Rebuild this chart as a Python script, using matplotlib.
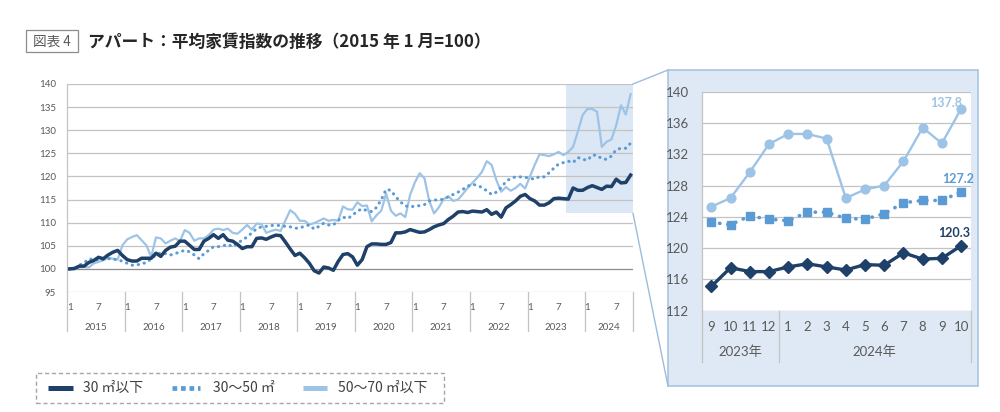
import matplotlib
matplotlib.use('Agg')
import matplotlib.pyplot as plt
from matplotlib.lines import Line2D
from matplotlib.patches import Rectangle

plt.rcParams['font.family'] = ['Lato', 'Noto Sans CJK JP', 'DejaVu Sans']

# ---------------- data ----------------
years = ['2015', '2016', '2017', '2018', '2019', '2020', '2021', '2022', '2023', '2024']
start_year = 2015
n_months = 118  # 2015-01 .. 2024-10

s30 = [100.0, 100.1, 100.6, 100.6, 101.4, 101.8, 102.5, 102.2, 103.0, 103.6, 104.0, 102.9,
       102.0, 101.7, 101.7, 102.3, 102.3, 102.3, 103.4, 102.7, 104.0, 104.7, 104.9, 106.0,
       106.0, 105.1, 104.2, 104.2, 106.0, 106.6, 107.4, 106.6, 107.4, 106.2, 106.0, 105.3,
       104.4, 104.8, 104.8, 106.6, 106.7, 106.4, 106.9, 107.3, 107.2, 105.8, 104.3, 102.9,
       103.4, 102.4, 101.2, 99.6, 99.1, 100.4, 100.2, 99.7, 101.6, 103.1, 103.3, 102.6,
       100.8, 102.0, 104.8, 105.4, 105.4, 105.3, 105.3, 105.7, 107.8, 107.8, 108.0, 108.5,
       108.2, 107.9, 108.0, 108.5, 109.1, 109.5, 109.8, 110.7, 111.4, 112.3, 112.4, 112.2,
       112.5, 112.4, 112.3, 112.8, 111.8, 112.3, 111.2, 113.2, 113.9, 114.7, 115.7, 116.1,
       115.2, 114.7, 113.8, 113.8, 114.3, 115.2, 115.3, 115.2, 115.1, 117.5, 117.0, 117.0,
       117.6, 118.0, 117.6, 117.2, 117.9, 117.8, 119.4, 118.6, 118.7, 120.3]

s30_50 = [100.0, 100.0, 100.8, 101.3, 102.2, 102.0, 101.9, 102.0, 102.2, 102.2, 101.9, 101.7,
          101.2, 100.8, 100.8, 101.2, 101.3, 102.2, 103.0, 103.5, 103.3, 103.0, 103.3, 103.7,
          104.0, 103.7, 103.0, 102.2, 103.3, 104.0, 104.8, 104.8, 105.0, 105.3, 104.8, 105.6,
          106.2, 106.9, 107.8, 108.7, 109.1, 109.2, 109.4, 109.4, 109.4, 109.2, 109.1, 108.8,
          108.8, 109.3, 109.5, 108.6, 109.2, 109.9, 109.5, 109.5, 110.5, 111.2, 110.9, 111.6,
          112.5, 113.0, 112.6, 112.4, 113.3, 115.0, 117.2, 117.0, 115.6, 114.5, 113.6, 113.5,
          113.5, 113.7, 113.9, 114.7, 114.9, 114.9, 115.1, 115.6, 116.1, 116.6, 117.2, 117.9,
          118.3, 118.1, 117.6, 116.9, 116.1, 116.6, 117.6, 118.9, 119.6, 119.9, 119.9, 119.8,
          119.6, 119.4, 120.0, 119.9, 120.8, 121.8, 122.7, 123.0, 123.3, 123.0, 124.1, 123.7,
          123.5, 124.6, 124.6, 123.8, 123.7, 124.4, 125.8, 126.1, 126.1, 127.2]

s50_70 = [100.0, 99.9, 100.3, 100.4, 100.3, 101.2, 101.5, 101.9, 102.4, 102.2, 102.0, 105.1,
          106.4, 106.9, 107.3, 106.2, 105.1, 102.6, 106.8, 106.6, 105.5, 106.1, 106.6, 106.0,
          108.4, 107.8, 106.1, 106.6, 106.6, 107.3, 108.5, 108.7, 108.4, 108.7, 107.8, 107.6,
          108.5, 109.5, 108.5, 109.8, 109.7, 107.8, 108.2, 108.5, 108.2, 110.5, 112.7, 111.9,
          110.4, 110.4, 109.6, 109.9, 110.4, 110.9, 110.4, 110.6, 110.4, 113.5, 112.9, 112.8,
          114.4, 113.6, 113.7, 110.3, 111.6, 112.6, 116.3, 112.6, 111.5, 112.0, 111.2, 116.0,
          118.7, 120.7, 119.6, 114.7, 112.0, 113.3, 115.1, 115.7, 114.7, 115.0, 116.2, 117.5,
          118.6, 119.7, 121.0, 123.3, 122.5, 119.2, 116.7, 117.7, 116.9, 117.5, 118.4, 117.4,
          120.0, 122.5, 124.8, 124.6, 124.4, 124.8, 125.3, 124.6, 125.3, 126.4, 129.7, 133.3,
          134.6, 134.6, 134.0, 126.4, 127.5, 128.0, 131.1, 135.4, 133.4, 137.8]

series_names = ['30 ㎡以下', '30～50 ㎡', '50～70 ㎡以下']
zoom_start = 104  # 2023-09
inset_years = ['2023年', '2024年']

# ---------------- style ----------------
c_dark = '#1f4068'
c_mid = '#5b9bd5'
c_light = '#9dc3e6'
c_grid = '#c3c3c3'
c_txt = '#595959'

W, H = 1000, 412
fig = plt.figure(figsize=(W / 100, H / 100), dpi=100)


def fx(px):
    return px / W


def fy(py):
    return 1 - py / H


# ---------------- title ----------------
fig.patches.append(Rectangle((fx(26), fy(52)), fx(78) - fx(26), fy(30) - fy(52),
                             transform=fig.transFigure, fill=False, ec='#8c8c8c', lw=0.9))
fig.text(fx(52), fy(41.5), '図表 4', ha='center', va='center', fontsize=9.8, color=c_txt,
         family=['Noto Sans CJK JP', 'DejaVu Sans'])
fig.text(fx(88), fy(41.5), 'アパート：平均家賃指数の推移（2015 年 1 月=100）', ha='left', va='center',
         fontsize=12.1, fontweight='bold', color='#262626', family=['Noto Sans CJK JP', 'DejaVu Sans'])

# ---------------- main chart ----------------
ax = fig.add_axes([fx(67.3), fy(292), fx(633) - fx(67.3), fy(84) - fy(292)])
x = list(range(n_months))
ax.set_xlim(-0.5, n_months - 0.5)
ax.set_ylim(95, 140)
for s in ['top', 'right', 'bottom']:
    ax.spines[s].set_visible(False)
ax.spines['left'].set_color(c_grid)
ax.spines['left'].set_linewidth(0.9)
ax.set_yticks(range(95, 141, 5))
ax.tick_params(axis='y', length=0, labelsize=7, labelcolor=c_txt, pad=8)
ax.set_xticks([])
for v in range(95, 141, 5):
    ax.axhline(v, color='#8c8c8c' if v == 100 else c_grid, lw=0.9, zorder=1)

ax.add_patch(Rectangle((zoom_start - 0.5, 112), n_months - zoom_start, 28,
                       fc='#dbe7f4', ec='none', zorder=0.5))

ax.plot(x, s50_70, color=c_light, lw=1.6, zorder=3, solid_joinstyle='round')
ax.plot(x, s30_50, color=c_mid, lw=2.2, linestyle=(0, (0.1, 1.9)), dash_capstyle='round', zorder=4)
ax.plot(x, s30, color=c_dark, lw=2.5, zorder=5, solid_joinstyle='round')

tr = ax.get_xaxis_transform()
ax_h = 292 - 84
for k, yr in enumerate(years):
    i0 = 12 * k
    for m in (1, 7):
        i = i0 + m - 1
        if i < n_months:
            ax.text(i, -(307 - 292) / ax_h, str(m), transform=tr, ha='center', va='center',
                    fontsize=7, color=c_txt)
    i_end = min(i0 + 12, n_months)
    ax.text((i0 + i_end - 1) / 2, -(327 - 292) / ax_h, yr, transform=tr, ha='center', va='center',
            fontsize=7, color=c_txt)
seps = [12 * k - 0.5 for k in range(len(years))] + [n_months - 0.5]
for sx in seps:
    ax.plot([sx, sx], [0, -(331 - 292) / ax_h], transform=tr, color=c_grid, lw=0.9, clip_on=False)

# ---------------- inset box ----------------
bx0, by0, bx1, by1 = 668, 70, 978, 386
fig.patches.append(Rectangle((fx(bx0), fy(by1)), fx(bx1) - fx(bx0), fy(by0) - fy(by1),
                             transform=fig.transFigure, fc='#dfe9f5', ec='#a9c5e2', lw=1.2, zorder=0))

# connector lines from highlighted region to inset box
fig.canvas.draw()
inv = fig.transFigure.inverted()
p_top = inv.transform(ax.transData.transform((n_months - 0.5, 140)))
p_bot = inv.transform(ax.transData.transform((n_months - 0.5, 112)))
fig.add_artist(Line2D([p_top[0], fx(bx0)], [p_top[1], fy(by0)], transform=fig.transFigure,
                      color='#9dbcdc', lw=1.0))
fig.add_artist(Line2D([p_bot[0], fx(bx0)], [p_bot[1], fy(by1)], transform=fig.transFigure,
                      color='#9dbcdc', lw=1.0))

# ---------------- inset chart ----------------
ax2 = fig.add_axes([fx(701.7), fy(310.7), fx(970.7) - fx(701.7), fy(91.7) - fy(310.7)])
ax2.set_facecolor('white')
ax2.set_zorder(2)
n_in = n_months - zoom_start
xi = list(range(n_in))
ax2.set_xlim(-0.5, n_in - 0.5)
ax2.set_ylim(112, 140)
for s in ['top', 'right', 'bottom']:
    ax2.spines[s].set_visible(False)
ax2.spines['left'].set_color(c_grid)
ax2.spines['left'].set_linewidth(0.9)
ax2.set_yticks(range(112, 141, 4))
ax2.tick_params(axis='y', length=0, labelsize=9.5, labelcolor=c_txt, pad=9)
ax2.set_xticks([])
for v in range(112, 141, 4):
    ax2.axhline(v, color='#a6a6a6' if v == 112 else c_grid, lw=0.9, zorder=1)

d_light = s50_70[zoom_start:]
d_mid = s30_50[zoom_start:]
d_dark = s30[zoom_start:]
ax2.plot(xi, d_light, color=c_light, lw=1.7, marker='o', ms=6.3, mec=c_light, mfc=c_light, zorder=3)
ax2.plot(xi, d_mid, color=c_mid, lw=2.6, linestyle=(0, (0.1, 2.2)), dash_capstyle='round', zorder=4)
ax2.plot(xi, d_mid, linestyle='none', marker='s', ms=6.2, color=c_mid, zorder=4)
ax2.plot(xi, d_dark, color=c_dark, lw=2.4, marker='D', ms=6.2, mec=c_dark, mfc=c_dark, zorder=5)

ax2.annotate(f'{d_light[-1]:.1f}', (xi[-1], d_light[-1]), xytext=(-15, 6), textcoords='offset pixels',
             ha='center', va='center', fontsize=9, fontweight='bold', color=c_light)
ax2.annotate(f'{d_mid[-1]:.1f}', (xi[-1], d_mid[-1]), xytext=(-3, 13), textcoords='offset pixels',
             ha='center', va='center', fontsize=9, fontweight='bold', color=c_mid)
ax2.annotate(f'{d_dark[-1]:.1f}', (xi[-1], d_dark[-1]), xytext=(-7, 13), textcoords='offset pixels',
             ha='center', va='center', fontsize=9, fontweight='bold', color=c_dark)

tr2 = ax2.get_xaxis_transform()
ax2_h = 310.7 - 91.7
first_month = (zoom_start % 12) + 1
for j in xi:
    m = (first_month - 1 + j) % 12 + 1
    ax2.text(j, -(327 - 310.7) / ax2_h, str(m), transform=tr2, ha='center', va='center',
             fontsize=9.5, color=c_txt)
n_first = 12 - (first_month - 1)
ax2.text((n_first - 1) / 2, -(352 - 310.7) / ax2_h, inset_years[0], transform=tr2, ha='center',
         va='center', fontsize=9.5, color=c_txt, family=['Lato', 'Noto Sans CJK JP'])
ax2.text((n_first + n_in - 1) / 2, -(352 - 310.7) / ax2_h, inset_years[1], transform=tr2, ha='center',
         va='center', fontsize=9.5, color=c_txt, family=['Lato', 'Noto Sans CJK JP'])
for sx in [-0.5, n_first - 0.5, n_in - 0.5]:
    ax2.plot([sx, sx], [0, -(362 - 310.7) / ax2_h], transform=tr2, color=c_grid, lw=0.9, clip_on=False)

# ---------------- legend ----------------
fig.patches.append(Rectangle((fx(36), fy(403)), fx(444) - fx(36), fy(373) - fy(403),
                             transform=fig.transFigure, fill=False, ec='#a6a6a6', lw=1.0,
                             linestyle=(0, (3, 2))))
ly = fy(388)
fig.add_artist(Line2D([fx(48), fx(73)], [ly, ly], transform=fig.transFigure, color=c_dark, lw=3.6,
                      solid_capstyle='butt'))
fig.add_artist(Line2D([fx(172), fx(200)], [ly, ly], transform=fig.transFigure, color=c_mid, lw=3.4,
                      linestyle=(0, (1, 0.8)), dash_capstyle='butt'))
fig.add_artist(Line2D([fx(303), fx(327)], [ly, ly], transform=fig.transFigure, color=c_light, lw=3.6,
                      solid_capstyle='butt'))
for tx, name in zip([83, 213, 338], series_names):
    fig.text(fx(tx), ly, name, ha='left', va='center', fontsize=10, color='#404040',
             family=['Noto Sans CJK JP', 'DejaVu Sans'])

fig.savefig('out.png', dpi=100)
